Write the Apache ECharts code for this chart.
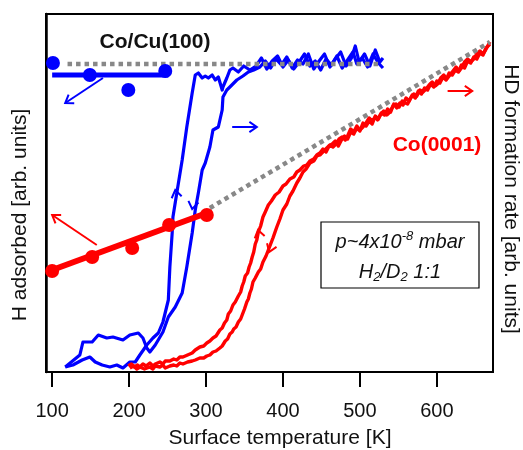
<!DOCTYPE html>
<html>
<head>
<meta charset="utf-8">
<script src="https://cdn.jsdelivr.net/npm/echarts@6/dist/echarts.min.js"></script>
<style>
  html, body { margin: 0; padding: 0; background: #fff; }
  #chart { width: 523px; height: 450px; }
</style>
</head>
<body>
<div id="chart"></div>
<script>
// x = surface temperature [K], y = arb. units (0 .. 358)
var xTicks = [100, 200, 300, 400, 500, 600];

// H adsorbed (left axis), measured points and linear fits
var coCuPoints = [[101, 309], [149, 297], [199, 282], [247, 301]];
var coCuFit = [[100, 297], [251, 297]];
var coPoints = [[100, 101], [152, 115], [204, 124], [252, 147], [301, 157]];
var coFit = [[100, 102], [301, 159]];

// HD formation rate (right axis), Co/Cu(100), the two branches of the loop
var coCuRateA = [
  [117, 5], [127, 7], [139, 12], [149, 15], [156, 10], [165, 7], [175, 5], [184, 7], [192, 4],
  [201, 10], [208, 10], [214, 17], [223, 27], [231, 34], [238, 39], [244, 50], [251, 72],
  [253, 105], [256, 139], [257, 155], [262, 179], [269, 212], [275, 245], [282, 279],
  [286, 297], [290, 299], [295, 294], [299, 296], [303, 294], [308, 297], [312, 292],
  [316, 295], [321, 282], [322, 285], [327, 294], [331, 302], [335, 304], [342, 300],
  [349, 306], [357, 302], [365, 306], [372, 314], [379, 303], [386, 311], [393, 316],
  [400, 305], [407, 312], [414, 303], [421, 310], [428, 318], [435, 306], [442, 311],
  [449, 302], [456, 313], [463, 307], [470, 316], [477, 304], [484, 312], [491, 320],
  [496, 308], [503, 314], [510, 305], [517, 318], [524, 309], [530, 304]
];
var coCuRateB = [
  [117, 5], [136, 17], [140, 30], [152, 30], [160, 37], [171, 34], [179, 35], [192, 32],
  [201, 37], [212, 39], [218, 34], [223, 24], [227, 20], [234, 27], [244, 40], [251, 55],
  [260, 65], [269, 79], [275, 105], [282, 139], [286, 162], [290, 179], [295, 202],
  [299, 209], [305, 225], [309, 242], [316, 245], [321, 262], [322, 275], [327, 282],
  [331, 285], [340, 292], [348, 296], [355, 300], [362, 302], [370, 305], [377, 311],
  [384, 304], [391, 313], [398, 307], [405, 315], [412, 304], [419, 312], [426, 308],
  [433, 318], [440, 303], [447, 311], [454, 318], [461, 305], [468, 313], [475, 320],
  [482, 306], [489, 314], [494, 326], [499, 310], [506, 318], [513, 306], [520, 322],
  [526, 310], [530, 314]
];

// HD formation rate, Co(0001)
var coRateA = [
  [199, 6], [203, 8], [207, 5], [211, 7], [214, 5], [218, 8], [222, 6], [227, 9], [231, 6],
  [234, 8], [240, 10], [244, 8], [247, 11], [253, 11], [258, 13], [262, 12], [266, 15],
  [270, 15], [276, 17], [282, 19], [286, 22], [288, 21], [292, 25], [297, 26], [301, 29],
  [305, 31], [309, 34], [313, 36], [318, 42], [321, 44], [324, 49], [327, 52], [329, 58],
  [332, 61], [335, 67], [338, 70], [342, 76], [345, 80], [347, 86], [349, 90], [351, 96],
  [354, 99], [356, 105], [358, 109], [360, 115], [362, 120], [364, 128], [366, 132],
  [368, 140], [371, 146], [374, 155], [377, 160], [381, 167], [385, 171], [390, 177],
  [395, 180], [400, 186], [404, 188], [409, 193], [414, 195], [418, 200], [422, 202],
  [427, 206], [431, 207], [435, 211], [440, 213], [444, 217], [448, 219], [452, 223],
  [456, 220], [460, 226], [464, 228], [468, 231], [472, 226], [476, 232], [480, 236],
  [484, 233], [488, 240], [492, 238], [496, 244], [500, 241], [504, 249], [508, 246],
  [512, 251], [516, 248], [520, 256], [524, 253], [528, 259], [532, 257], [536, 263],
  [540, 260], [544, 268], [548, 264], [552, 269], [556, 267], [560, 274], [564, 271],
  [568, 277], [572, 274], [576, 281], [580, 278], [584, 284], [588, 282], [592, 288],
  [596, 285], [600, 291], [604, 289], [608, 295], [612, 292], [616, 299], [620, 297],
  [624, 302], [628, 300], [632, 307], [636, 304], [640, 311], [644, 309], [648, 315],
  [652, 313], [656, 319], [660, 317], [664, 324], [669, 328]
];
var coRateB = [
  [201, 4], [206, 6], [210, 3], [214, 5], [220, 3], [227, 5], [231, 3], [234, 6], [240, 5],
  [244, 7], [247, 4], [253, 6], [258, 7], [262, 6], [266, 9], [270, 8], [276, 10],
  [282, 11], [286, 12], [288, 11], [292, 14], [297, 14], [301, 16], [305, 17], [309, 20],
  [313, 21], [318, 24], [321, 26], [325, 31], [328, 33], [331, 38], [334, 40], [336, 43],
  [339, 45], [342, 50], [345, 53], [348, 59], [350, 63], [353, 70], [355, 73], [357, 79],
  [359, 83], [361, 90], [364, 94], [368, 100], [371, 103], [374, 110], [378, 116],
  [383, 126], [387, 134], [392, 145], [396, 153], [400, 162], [405, 168], [409, 176],
  [413, 181], [418, 189], [422, 194], [426, 200], [430, 203], [435, 209], [440, 211],
  [444, 216], [448, 217], [453, 221], [457, 224], [461, 227], [465, 225], [469, 228],
  [473, 233], [477, 235], [481, 232], [484, 236], [488, 243], [492, 240], [496, 246],
  [500, 242], [504, 245], [508, 249], [512, 254], [516, 251], [520, 255], [523, 252],
  [527, 258], [531, 261], [535, 257], [539, 260], [543, 266], [547, 268], [551, 265],
  [555, 271], [559, 269], [562, 268], [566, 274], [570, 278], [574, 276], [578, 282],
  [582, 280], [586, 283], [590, 287], [594, 290], [598, 286], [601, 288], [605, 294],
  [609, 297], [613, 293], [617, 297], [621, 301], [625, 305], [629, 301], [632, 304],
  [636, 310], [640, 313], [644, 310], [648, 313], [652, 318], [656, 321], [660, 318],
  [664, 323], [669, 330]
];

// guide lines (grey dotted)
var guideCoCu = [[120, 308], [527, 308]];
var guideCo = [[305, 164], [669, 330]];

// arrows: [x1, y1, x2, y2, withShaft]
var blueArrows = [
  [166, 294, 117, 269, 1],
  [334, 245, 366, 245, 1],
  [262, 174, 260, 182, 0],
  [284, 172, 282, 163, 0]
];
var redArrows = [
  [158, 127, 100, 157, 1],
  [614, 281, 646, 281, 1],
  [370, 134, 367.5, 142, 0],
  [387, 130, 382, 120, 0]
];

var BLUE = '#0000ff';
var RED = '#ff0000';
var GREY = '#888888';
var FONT = '"Liberation Sans", Arial, sans-serif';

function lineSeries(data, color, width, z, dash) {
  return {
    type: 'line',
    data: data,
    showSymbol: false,
    smooth: false,
    silent: true,
    z: z,
    lineStyle: { color: color, width: width, type: dash || 'solid', cap: 'butt', join: 'round' }
  };
}

function dotSeries(data, color) {
  return {
    type: 'scatter', data: data, symbol: 'circle', symbolSize: 14, z: 6, silent: true,
    itemStyle: { color: color, opacity: 1 }
  };
}

function arrowSeries(data, color) {
  return {
    type: 'custom',
    data: data,
    z: 20,
    silent: true,
    encode: { x: [0, 2], y: [1, 3] },
    renderItem: function (params, api) {
      var p1 = api.coord([api.value(0), api.value(1)]);
      var p2 = api.coord([api.value(2), api.value(3)]);
      var ang = Math.atan2(p2[1] - p1[1], p2[0] - p1[0]);
      var L = 9, a = 0.6;
      var h1 = [p2[0] - L * Math.cos(ang - a), p2[1] - L * Math.sin(ang - a)];
      var h2 = [p2[0] - L * Math.cos(ang + a), p2[1] - L * Math.sin(ang + a)];
      var kids = [{
        type: 'polyline',
        shape: { points: [h1, p2, h2] },
        style: { stroke: color, lineWidth: 2, fill: null }
      }];
      if (api.value(4)) {
        kids.push({
          type: 'line',
          shape: { x1: p1[0], y1: p1[1], x2: p2[0], y2: p2[1] },
          style: { stroke: color, lineWidth: 2 }
        });
      }
      return { type: 'group', children: kids };
    }
  };
}

var chart = echarts.init(document.getElementById('chart'));

var option = {
  animation: false,
  textStyle: { fontFamily: FONT },
  grid: {
    left: 46, right: 30, top: 14, bottom: 78,
    show: true, borderColor: '#000', borderWidth: 2,
    containLabel: false, outerBoundsMode: 'none'
  },
  xAxis: {
    type: 'value',
    min: 92, max: 673,
    axisLine: { onZero: false, lineStyle: { color: '#000', width: 2 } },
    axisTick: { show: true, inside: false, length: 15, lineStyle: { color: '#000', width: 2 }, customValues: xTicks },
    axisLabel: { color: '#111', fontSize: 20, fontFamily: FONT, margin: 29, customValues: xTicks },
    splitLine: { show: false }
  },
  yAxis: {
    type: 'value',
    min: 0, max: 358,
    axisLine: { show: true, lineStyle: { color: '#000', width: 2.5 } },
    axisTick: { show: false },
    axisLabel: { show: false },
    splitLine: { show: false }
  },
  graphic: [
    {
      type: 'text', z: 30,
      style: { text: 'Co/Cu(100)', x: 155, y: 42, textAlign: 'center', textVerticalAlign: 'middle',
        font: 'bold 21px ' + FONT, fill: '#111' }
    },
    {
      type: 'text', z: 30,
      style: { text: 'Co(0001)', x: 437, y: 145, textAlign: 'center', textVerticalAlign: 'middle',
        font: 'bold 21px ' + FONT, fill: RED }
    },
    {
      type: 'rect', z: 30,
      shape: { x: 321, y: 222, width: 158, height: 66 },
      style: { fill: '#fff', stroke: '#000', lineWidth: 1.2 }
    },
    {
      type: 'text', z: 31,
      style: {
        text: '{i|p~4x10}{s|-8}{i| mbar}', x: 400, y: 242, textAlign: 'center', textVerticalAlign: 'middle',
        rich: {
          i: { fontStyle: 'italic', fontSize: 20, fontFamily: FONT, fill: '#111', lineHeight: 24 },
          s: { fontStyle: 'italic', fontSize: 13, fontFamily: FONT, fill: '#111', lineHeight: 24, verticalAlign: 'top', padding: [0, 0, 12, 0] }
        }
      }
    },
    {
      type: 'text', z: 31,
      style: {
        text: '{i|H}{b|2}{i|/D}{b|2}{i| 1:1}', x: 400, y: 272, textAlign: 'center', textVerticalAlign: 'middle',
        rich: {
          i: { fontStyle: 'italic', fontSize: 20, fontFamily: FONT, fill: '#111', lineHeight: 24 },
          b: { fontStyle: 'italic', fontSize: 13, fontFamily: FONT, fill: '#111', lineHeight: 24, padding: [10, 0, 0, 0] }
        }
      }
    },
    {
      type: 'text', z: 30,
      style: { text: 'Surface temperature [K]', x: 280, y: 438, textAlign: 'center', textVerticalAlign: 'middle',
        font: '21px ' + FONT, fill: '#111' }
    },
    {
      type: 'text', z: 30, x: 20, y: 215, rotation: Math.PI / 2,
      style: { text: 'H adsorbed [arb. units]', x: 0, y: 0, textAlign: 'center', textVerticalAlign: 'middle',
        font: '21px ' + FONT, fill: '#111' }
    },
    {
      type: 'text', z: 30, x: 511, y: 199, rotation: -Math.PI / 2,
      style: { text: 'HD formation rate [arb. units]', x: 0, y: 0, textAlign: 'center', textVerticalAlign: 'middle',
        font: '21px ' + FONT, fill: '#111' }
    }
  ],
  series: [
    lineSeries(coCuRateA, BLUE, 3.2, 2),
    lineSeries(coCuRateB, BLUE, 3.2, 2),
    lineSeries(coRateA, RED, 3.4, 3),
    lineSeries(coRateB, RED, 3.4, 3),
    lineSeries(guideCoCu, GREY, 4.5, 4, [4.5, 4]),
    lineSeries(guideCo, GREY, 4.5, 4, [4.5, 4]),
    lineSeries(coFit, RED, 6, 5),
    dotSeries(coPoints, RED),
    lineSeries(coCuFit, BLUE, 5, 5),
    dotSeries(coCuPoints, BLUE),
    arrowSeries(blueArrows, BLUE),
    arrowSeries(redArrows, RED)
  ]
};

chart.setOption(option);
</script>
</body>
</html>
